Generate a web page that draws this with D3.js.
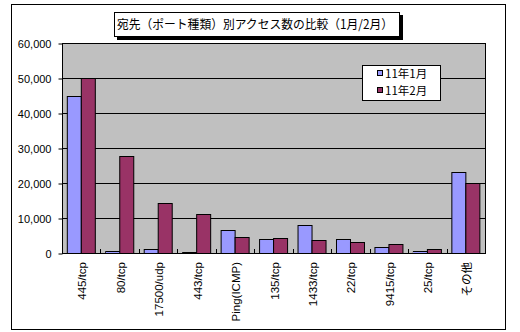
<!DOCTYPE html>
<html>
<head>
<meta charset="utf-8">
<script src="https://cdn.jsdelivr.net/npm/d3@7"></script>
<style>
  body { margin: 0; background: #fff; }
  svg { display: block; }
</style>
</head>
<body>
<svg id="chart" width="520" height="332"></svg>
<script>
const categories = ["445/tcp", "80/tcp", "17500/udp", "443/tcp", "Ping(ICMP)", "135/tcp", "1433/tcp", "22/tcp", "9415/tcp", "25/tcp", "その他"]
const jan = [45000, 500, 1200, 350, 6600, 4000, 8000, 4000, 1700, 600, 23100]
const feb = [50000, 27700, 14300, 11100, 4600, 4300, 3700, 3100, 2600, 1200, 20000]
const seriesNames = ["11年1月", "11年2月"]
const yTicks = [0, 10000, 20000, 30000, 40000, 50000, 60000]
const titleText = "宛先（ポート種類）別アクセス数の比較（1月/2月）"

const colors = ["#9999FF", "#993366"]
const svg = d3.select("#chart")
const font = "'Liberation Sans', Arial, sans-serif"
const jpFont = "'Noto Sans CJK JP', sans-serif"

// outer frame
svg.append("rect")
    .attr("x", 11.5).attr("y", 4.5)
    .attr("width", 494).attr("height", 325)
    .attr("fill", "#fff").attr("stroke", "#000")

const plot = { left: 62, right: 485, top: 43, bottom: 253 }

const x = d3.scaleBand()
    .domain(categories)
    .range([plot.left, plot.right])
    .paddingInner(0.25).paddingOuter(0.125)

const xs = d3.scaleBand()
    .domain(seriesNames)
    .range([0, x.bandwidth()])

const y = d3.scaleLinear()
    .domain([0, 60000])
    .range([plot.bottom, plot.top])

svg.append("rect")
    .attr("x", plot.left).attr("y", plot.top)
    .attr("width", plot.right - plot.left).attr("height", plot.bottom - plot.top)
    .attr("fill", "#C0C0C0")

// gridlines
svg.append("g")
    .selectAll("line")
    .data(yTicks)
    .join("line")
    .attr("x1", plot.left).attr("x2", plot.right)
    .attr("y1", d => Math.round(y(d)) + 0.5).attr("y2", d => Math.round(y(d)) + 0.5)
    .attr("stroke", "#000")

// bars
const rows = categories.map((c, i) => ({ cat: c, vals: [jan[i], feb[i]] }))
svg.append("g")
    .selectAll("g")
    .data(rows)
    .join("g")
    .attr("transform", d => `translate(${x(d.cat)},0)`)
    .selectAll("rect")
    .data(d => d.vals.map((v, j) => ({ name: seriesNames[j], v, j })))
    .join("rect")
    .attr("x", d => Math.round(xs(d.name)) + 0.5)
    .attr("y", d => Math.round(y(d.v)) + 0.5)
    .attr("width", Math.round(xs.bandwidth()))
    .attr("height", d => Math.max(0, Math.round(y(0)) - Math.round(y(d.v))))
    .attr("fill", d => colors[d.j])
    .attr("stroke", "#000")
    .attr("stroke-width", 1)

// plot border
svg.append("rect")
    .attr("x", plot.left + 0.5).attr("y", plot.top + 0.5)
    .attr("width", plot.right - plot.left).attr("height", plot.bottom - plot.top)
    .attr("fill", "none").attr("stroke", "#000")

// y axis
const yAxis = svg.append("g")
    .attr("transform", `translate(${plot.left + 0.5},0.5)`)
    .call(d3.axisLeft(y).tickValues(yTicks).tickSize(4).tickPadding(8)
        .tickFormat(d3.format(",")))
yAxis.select(".domain").remove()
yAxis.selectAll("line").attr("stroke", "#000")
yAxis.selectAll("text")
    .attr("font-family", font).attr("font-size", 11).attr("fill", "#000")
    .attr("x", -11)

// x category separator ticks
const bounds = d3.range(1, categories.length).map(i => plot.left + (plot.right - plot.left) * i / categories.length)
svg.append("g")
    .selectAll("line")
    .data(bounds)
    .join("line")
    .attr("x1", d => Math.round(d) + 0.5).attr("x2", d => Math.round(d) + 0.5)
    .attr("y1", plot.bottom - 4).attr("y2", plot.bottom + 1)
    .attr("stroke", "#000")

// x labels
svg.append("g")
    .selectAll("text")
    .data(categories)
    .join("text")
    .attr("transform", d => `translate(${x(d) + x.bandwidth() / 2 + 5},${plot.bottom + 9}) rotate(-90)`)
    .attr("text-anchor", "end")
    .attr("font-family", d => /[^\x00-\x7f]/.test(d) ? jpFont : font)
    .attr("font-size", 11.5)
    .attr("fill", "#000")
    .text(d => d)

// title box with shadow
svg.append("rect")
    .attr("x", 117).attr("y", 15).attr("width", 286).attr("height", 25).attr("fill", "#000")
svg.append("rect")
    .attr("x", 114.5).attr("y", 12.5).attr("width", 285).attr("height", 24)
    .attr("fill", "#fff").attr("stroke", "#000")
svg.append("text")
    .attr("x", 117).attr("y", 29)
    .attr("font-family", jpFont).attr("font-size", 12.5)
    .attr("textLength", 276).attr("lengthAdjust", "spacingAndGlyphs")
    .attr("fill", "#000")
    .text(titleText)

// legend
const legend = svg.append("g")
legend.append("rect")
    .attr("x", 362.5).attr("y", 65.5).attr("width", 78).attr("height", 35)
    .attr("fill", "#fff").attr("stroke", "#000")
const li = legend.selectAll("g")
    .data(seriesNames)
    .join("g")
    .attr("transform", (d, i) => `translate(377,${74 + i * 17})`)
li.append("rect")
    .attr("x", 0.5).attr("y", -3.5).attr("width", 5).attr("height", 5)
    .attr("fill", (d, i) => colors[i]).attr("stroke", "#000")
li.append("text")
    .attr("x", 8).attr("y", 4)
    .attr("font-family", jpFont).attr("font-size", 11.5)
    .attr("fill", "#000")
    .text(d => d)
</script>
</body>
</html>
